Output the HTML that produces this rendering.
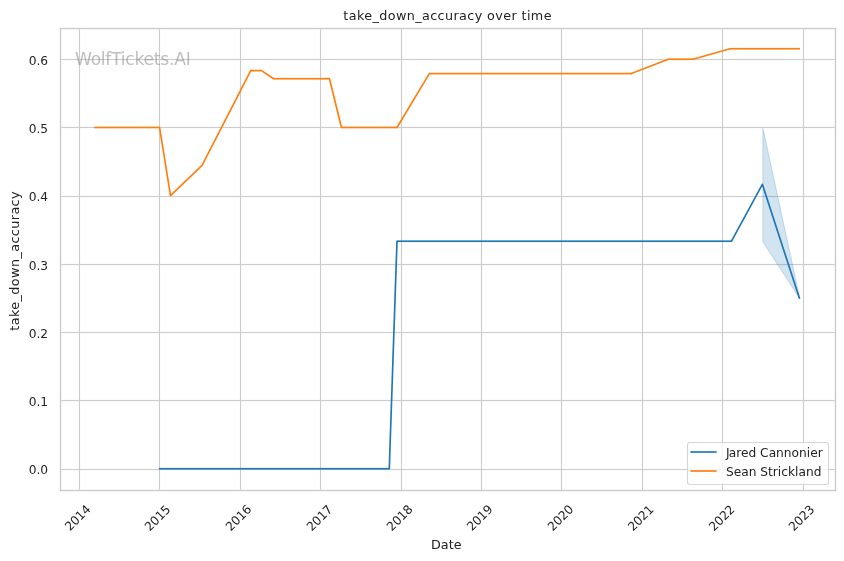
<!DOCTYPE html>
<html lang="en">
<head>
<meta charset="utf-8">
<title>take_down_accuracy over time</title>
<style>
html,body{margin:0;padding:0;background:#ffffff;}
body{width:844px;height:561px;overflow:hidden;}
svg{display:block;}
text{font-family:"DejaVu Sans","Liberation Sans",sans-serif;}
.tk{font-size:12.222px;fill:#242424;}
.lb{font-size:12.75px;fill:#222222;}
.yl{font-size:12.75px;fill:#222222;}
</style>
</head>
<body>
<svg width="844" height="561" viewBox="0 0 844 561">
<rect x="0" y="0" width="844" height="561" fill="#ffffff"/>
<!-- grid -->
<g fill="#cccccc">
<rect x="78.9445" y="28.5" width="1.111" height="462"/>
<rect x="158.9445" y="28.5" width="1.111" height="462"/>
<rect x="239.9445" y="28.5" width="1.111" height="462"/>
<rect x="319.9445" y="28.5" width="1.111" height="462"/>
<rect x="400.9445" y="28.5" width="1.111" height="462"/>
<rect x="480.9445" y="28.5" width="1.111" height="462"/>
<rect x="560.9445" y="28.5" width="1.111" height="462"/>
<rect x="641.9445" y="28.5" width="1.111" height="462"/>
<rect x="721.9445" y="28.5" width="1.111" height="462"/>
<rect x="802.9445" y="28.5" width="1.111" height="462"/>
<rect x="60.5" y="58.9445" width="775" height="1.111"/>
<rect x="60.5" y="126.9445" width="775" height="1.111"/>
<rect x="60.5" y="195.9445" width="775" height="1.111"/>
<rect x="60.5" y="263.9445" width="775" height="1.111"/>
<rect x="60.5" y="331.9445" width="775" height="1.111"/>
<rect x="60.5" y="399.9445" width="775" height="1.111"/>
<rect x="60.5" y="468.9445" width="775" height="1.111"/>
</g>
<!-- confidence band -->
<polygon points="762.86,127.97 799.86,298.59 762.86,241.72" fill="#1f77b4" fill-opacity="0.2" stroke="#1f77b4" stroke-opacity="0.2" stroke-width="1.111" stroke-linejoin="miter"/>
<!-- data lines -->
<g fill="#1f77b4" stroke="#1f77b4" stroke-width="1.667" stroke-linejoin="round" stroke-linecap="round">
<rect x="159.56" y="467.8865" width="229.71" height="1.667" stroke="none"/>
<circle cx="159.56" cy="468.72" r="0.8335" stroke="none"/>
<polyline points="389.27,468.72 396.98,241.22" fill="none"/>
<rect x="396.98" y="240.3865" width="334.54" height="1.667" stroke="none"/>
<polyline points="731.52,241.22 762.36,184.34 799.36,298.09" fill="none"/>
</g>
<g fill="#ff7f0e" stroke="#ff7f0e" stroke-width="1.667" stroke-linejoin="round" stroke-linecap="round">
<rect x="94.81" y="126.6365" width="64.75" height="1.667" stroke="none"/>
<circle cx="94.81" cy="127.47" r="0.8335" stroke="none"/>
<polyline points="159.56,127.47 170.50,195.72 202.07,165.38 250.74,70.59" fill="none"/>
<rect x="250.74" y="69.7565" width="10.76" height="1.667" stroke="none"/>
<polyline points="261.50,70.59 273.64,78.72" fill="none"/>
<rect x="273.64" y="77.8865" width="55.81" height="1.667" stroke="none"/>
<polyline points="329.45,78.72 341.48,127.47" fill="none"/>
<rect x="341.48" y="126.6365" width="55.50" height="1.667" stroke="none"/>
<polyline points="396.98,127.47 429.35,73.58" fill="none"/>
<rect x="429.35" y="72.7465" width="201.96" height="1.667" stroke="none"/>
<polyline points="631.31,73.58 668.31,59.22" fill="none"/>
<rect x="668.31" y="58.3865" width="24.67" height="1.667" stroke="none"/>
<polyline points="692.98,59.22 729.98,48.72" fill="none"/>
<rect x="729.98" y="47.8865" width="69.38" height="1.667" stroke="none"/>
<circle cx="799.36" cy="48.72" r="0.8335" stroke="none"/>
</g>
<!-- spines -->
<g fill="#cccccc">
<rect x="59.8055" y="27.8055" width="1.389" height="463.389"/><rect x="834.8055" y="27.8055" width="1.389" height="463.389"/><rect x="59.8055" y="489.8055" width="776.389" height="1.389"/><rect x="59.8055" y="27.8055" width="776.389" height="1.389"/>
</g>
<!-- legend frame and handles -->
<rect x="687.5" y="442.5" width="141" height="42" rx="2.44" ry="2.44" fill="#ffffff" fill-opacity="0.8" stroke="#cccccc" stroke-opacity="0.8" stroke-width="1.111"/>
<rect x="690.41" y="451.167" width="26.2" height="1.667" fill="#1f77b4"/>
<rect x="690.41" y="470.167" width="26.2" height="1.667" fill="#ff7f0e"/>
<!-- all text (tick labels, axis labels, title, watermark, legend labels): grouped so anti-aliasing is grayscale like the original raster -->
<g style="filter:grayscale(1)">
<g>
<text class="tk" text-anchor="middle" transform="translate(80.59,520.90) rotate(-45)" letter-spacing="-0.2">2014</text>
<text class="tk" text-anchor="middle" transform="translate(160.42,521.10) rotate(-45)" letter-spacing="-0.2">2015</text>
<text class="tk" text-anchor="middle" transform="translate(241.46,520.98) rotate(-45)" letter-spacing="-0.2">2016</text>
<text class="tk" text-anchor="middle" transform="translate(322.38,521.03) rotate(-45)" letter-spacing="-0.2">2017</text>
<text class="tk" text-anchor="middle" transform="translate(402.53,520.93) rotate(-45)" letter-spacing="-0.2">2018</text>
<text class="tk" text-anchor="middle" transform="translate(482.59,520.90) rotate(-45)" letter-spacing="-0.2">2019</text>
<text class="tk" text-anchor="middle" transform="translate(563.44,520.94) rotate(-45)" letter-spacing="-0.2">2020</text>
<text class="tk" text-anchor="middle" transform="translate(643.60,521.08) rotate(-45)" letter-spacing="-0.2">2021</text>
<text class="tk" text-anchor="middle" transform="translate(724.63,521.10) rotate(-45)" letter-spacing="-0.2">2022</text>
<text class="tk" text-anchor="middle" transform="translate(804.39,521.08) rotate(-45)" letter-spacing="-0.2">2023</text>
</g>
<text class="tk" text-anchor="end" x="48.15" y="64.59">0.6</text>
<text class="tk" text-anchor="end" x="48.09" y="132.51">0.5</text>
<text class="tk" text-anchor="end" x="48.11" y="200.51">0.4</text>
<text class="tk" text-anchor="end" x="48.14" y="269.57">0.3</text>
<text class="tk" text-anchor="end" x="48.13" y="337.56">0.2</text>
<text class="tk" text-anchor="end" x="48.09" y="405.51">0.1</text>
<text class="tk" text-anchor="end" x="48.10" y="473.53">0.0</text>
<text class="lb" text-anchor="middle" transform="translate(446.28,548.50)" letter-spacing="0.0">Date</text>
<text class="yl" text-anchor="middle" transform="translate(18.51,260.83) rotate(-90)" letter-spacing="0.41">take_down_accuracy</text>
<text class="lb" text-anchor="middle" transform="translate(447.63,19.58)" letter-spacing="0.39">take_down_accuracy over time</text>
<text transform="translate(74.92,64.51)" letter-spacing="-0.28" style="font-size:17.2px;fill:#808080;fill-opacity:0.5">WolfTickets.AI</text>
<text class="tk" x="725.10" y="456.50" dx="0.8 -0.8">Jared Cannonier</text>
<text class="tk" x="725.91" y="475.51">Sean Strickland</text>
</g>
</svg>
</body>
</html>
